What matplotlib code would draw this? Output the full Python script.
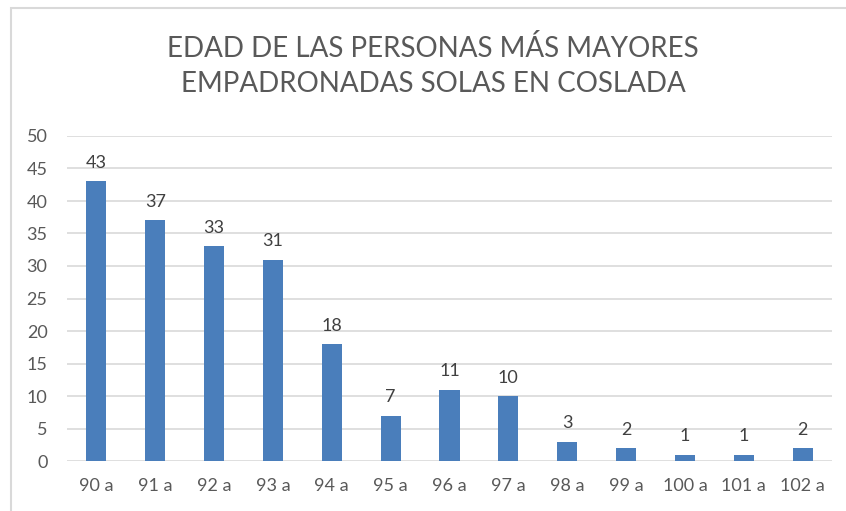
import matplotlib.pyplot as plt
from matplotlib.patches import Rectangle

edades = ['90 a', '91 a', '92 a', '93 a', '94 a', '95 a', '96 a',
          '97 a', '98 a', '99 a', '100 a', '101 a', '102 a']
personas = [43, 37, 33, 31, 18, 7, 11, 10, 3, 2, 1, 1, 2]

plt.rcParams['font.family'] = ['Lato', 'DejaVu Sans']
gris = '#595959'

fig = plt.figure(figsize=(8.46, 5.11), dpi=100)
ax = fig.add_axes([67/846, 1 - 461/511, 765/846, 325/511])

x = range(len(edades))
ax.bar(x, personas, width=0.34, color='#4A7EBB', zorder=3)
for i, v in zip(x, personas):
    ax.text(i, v + 1.6, str(v), ha='center', va='bottom', fontsize=13, color='#404040')

ax.set_xlim(-0.5, len(edades) - 0.5)
ax.set_ylim(0, 50)
ax.set_yticks(range(0, 51, 5))
ax.set_xticks(list(x))
ax.set_xticklabels(edades)
ax.yaxis.grid(True, color='#D9D9D9', linewidth=1.2, zorder=0)
ax.tick_params(length=0, labelsize=13, labelcolor=gris)
ax.tick_params(axis='y', pad=14)
ax.tick_params(axis='x', pad=12)
for s in ax.spines.values():
    s.set_visible(False)

fig.text(0.512, 1 - 66/511, 'EDAD DE LAS PERSONAS MÁS MAYORES\nEMPADRONADAS SOLAS EN COSLADA',
         ha='center', va='center', fontsize=20, color=gris, linespacing=1.45)

fig.patches.append(Rectangle((11/846, -0.1), 2, 1 - 8/511 + 0.1, transform=fig.transFigure,
                             fill=False, edgecolor='#D9D9D9', linewidth=1.5))

fig.savefig('out.png', dpi=100)
